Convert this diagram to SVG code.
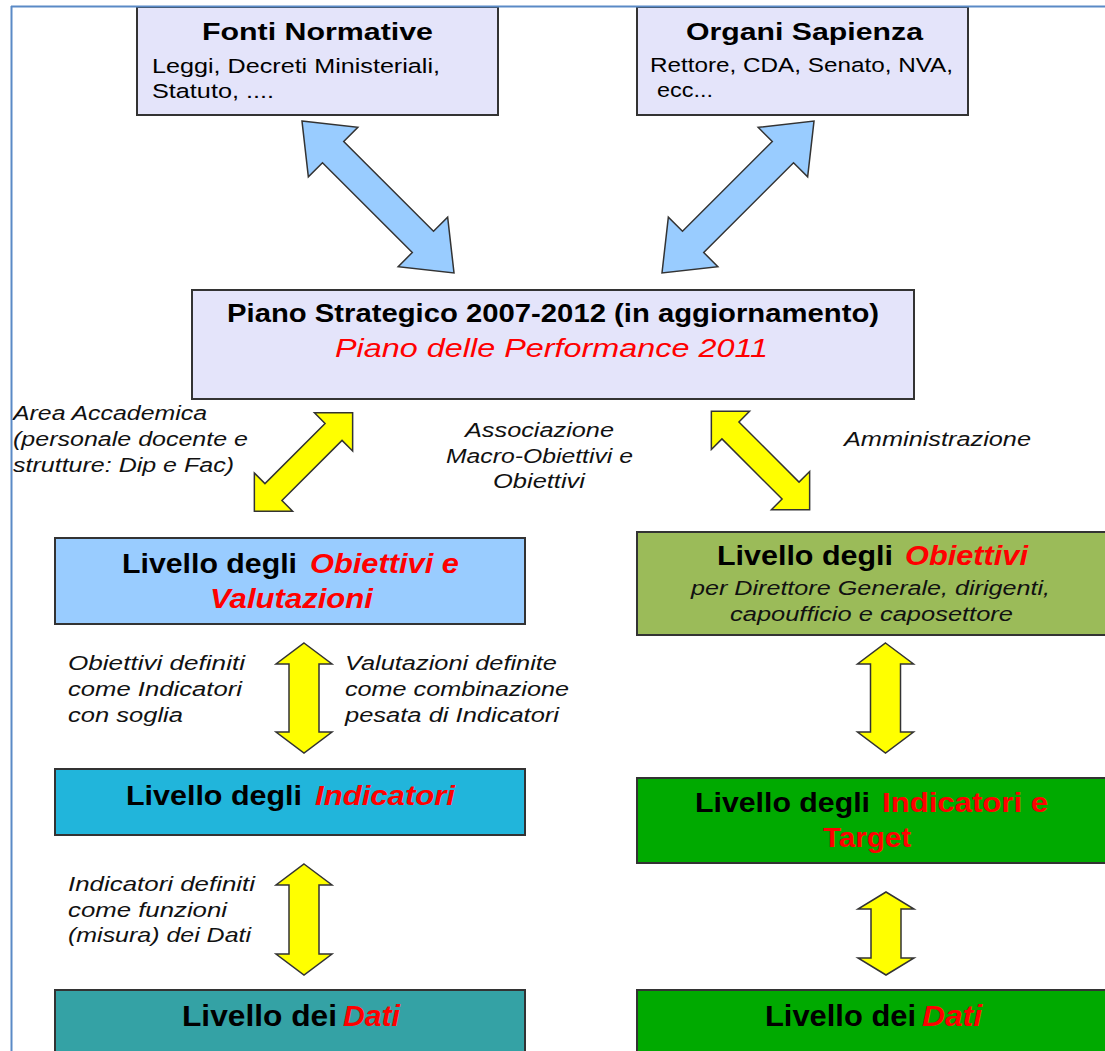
<svg xmlns="http://www.w3.org/2000/svg" width="1105" height="1051" viewBox="0 0 1105 1051">
<defs>
<style>
text{font-family:"Liberation Sans",Arial,sans-serif;fill:#000}
.box{stroke:#333;stroke-width:2}
.lav{fill:#e4e4fa}
.t21{font-size:24px;font-weight:bold}
.s19{font-size:20.5px}
.b23{font-size:25px;font-weight:bold}
.i23{font-size:25px;font-style:italic;fill:#f00}
.lab{font-size:19.5px;font-style:italic;fill:#111}
.h27{font-size:27px;font-weight:bold}
.r{fill:#f00}
.it{font-style:italic}
.blue{fill:#99ccff;stroke:#333;stroke-width:1.5;stroke-linejoin:miter}
.yel{fill:#ffff00;stroke:#333;stroke-width:1.5;stroke-linejoin:miter}
</style>
</defs>
<rect width="1105" height="1051" fill="#fff"/>

<g id="fonti">
<rect class="box lav" x="137" y="7" width="361" height="108"/>
<text class="t21" x="202" y="40" textLength="231" lengthAdjust="spacingAndGlyphs">Fonti Normative</text>
<text class="s19" x="152" y="73" textLength="288" lengthAdjust="spacingAndGlyphs">Leggi, Decreti Ministeriali,</text>
<text class="s19" x="152" y="98" textLength="122" lengthAdjust="spacingAndGlyphs">Statuto, ....</text>
</g>

<g id="organi">
<rect class="box lav" x="637" y="7" width="331" height="108"/>
<text class="t21" x="686" y="40" textLength="237" lengthAdjust="spacingAndGlyphs">Organi Sapienza</text>
<text class="s19" x="650" y="72" textLength="303" lengthAdjust="spacingAndGlyphs">Rettore, CDA, Senato, NVA,</text>
<text class="s19" x="657" y="97" textLength="56" lengthAdjust="spacingAndGlyphs">ecc...</text>
</g>

<g id="piano">
<rect class="box lav" x="192" y="290" width="722" height="109"/>
<text class="b23" x="227" y="322" textLength="652" lengthAdjust="spacingAndGlyphs">Piano Strategico 2007-2012 (in aggiornamento)</text>
<text class="i23" x="335" y="357" textLength="433" lengthAdjust="spacingAndGlyphs">Piano delle Performance 2011</text>
</g>

<g id="obiettivi-valutazioni">
<rect class="box" fill="#99ccff" x="55" y="538" width="470" height="86"/>
<text class="h27" x="122" y="573" textLength="175" lengthAdjust="spacingAndGlyphs">Livello degli</text>
<text class="h27 r it" x="310" y="573" textLength="149" lengthAdjust="spacingAndGlyphs">Obiettivi e</text>
<text class="h27 r it" x="210" y="608" textLength="163" lengthAdjust="spacingAndGlyphs">Valutazioni</text>
</g>

<g id="obiettivi-amm">
<rect class="box" fill="#9bbb59" x="637" y="532" width="480" height="103"/>
<text class="h27" x="717" y="565" textLength="176" lengthAdjust="spacingAndGlyphs">Livello degli</text>
<text class="h27 r it" x="905" y="565" textLength="123" lengthAdjust="spacingAndGlyphs">Obiettivi</text>
<text class="lab" x="691" y="595" textLength="359" lengthAdjust="spacingAndGlyphs" style="font-size:20.5px">per Direttore Generale, dirigenti,</text>
<text class="lab" x="730" y="621" textLength="283" lengthAdjust="spacingAndGlyphs" style="font-size:20.5px">capoufficio e caposettore</text>
</g>

<g id="indicatori">
<rect class="box" fill="#21b5db" x="55" y="769" width="470" height="66"/>
<text class="h27" x="126" y="805" textLength="176" lengthAdjust="spacingAndGlyphs">Livello degli</text>
<text class="h27 r it" x="315" y="805" textLength="140" lengthAdjust="spacingAndGlyphs">Indicatori</text>
</g>

<g id="indicatori-target">
<rect class="box" fill="#00aa00" x="637" y="778" width="480" height="85"/>
<text class="h27" x="695" y="812" textLength="175" lengthAdjust="spacingAndGlyphs">Livello degli</text>
<text class="h27 r" x="882" y="812" textLength="166" lengthAdjust="spacingAndGlyphs">Indicatori e</text>
<text class="h27 r" x="823" y="847" textLength="88" lengthAdjust="spacingAndGlyphs">Target</text>
</g>

<g id="dati-acc">
<rect class="box" fill="#34a2a5" x="55" y="990" width="470" height="70"/>
<text class="h27" x="182" y="1026" textLength="155" lengthAdjust="spacingAndGlyphs" style="font-size:29px">Livello dei</text>
<text class="h27 r it" x="343" y="1026" textLength="57" lengthAdjust="spacingAndGlyphs" style="font-size:29px">Dati</text>
</g>

<g id="dati-amm">
<rect class="box" fill="#00aa00" x="637" y="990" width="480" height="70"/>
<text class="h27" x="765" y="1026" textLength="151" lengthAdjust="spacingAndGlyphs" style="font-size:29px">Livello dei</text>
<text class="h27 r it" x="922" y="1026" textLength="60" lengthAdjust="spacingAndGlyphs" style="font-size:29px">Dati</text>
</g>

<g id="connectors">
<polygon class="blue" transform="translate(378 197) rotate(45)" points="-107.5,0 -63.5,-35 -63.5,-15 63.5,-15 63.5,-35 107.5,0 63.5,35 63.5,15 -63.5,15 -63.5,35"/>
<polygon class="blue" transform="translate(738 197) rotate(-45)" points="-107.5,0 -63.5,-35 -63.5,-15 63.5,-15 63.5,-35 107.5,0 63.5,35 63.5,15 -63.5,15 -63.5,35"/>
<polygon class="yel" transform="translate(303.5 462) rotate(-45)" points="-69.5,0 -42.5,-27 -42.5,-12 42.5,-12 42.5,-27 69.5,0 42.5,27 42.5,12 -42.5,12 -42.5,27"/>
<polygon class="yel" transform="translate(760.5 460.5) rotate(45)" points="-69.5,0 -42.5,-27 -42.5,-12 42.5,-12 42.5,-27 69.5,0 42.5,27 42.5,12 -42.5,12 -42.5,27"/>
<polygon class="yel" points="304,643 332,664 319,664 319,732 332,732 304,753 276,732 289,732 289,664 276,664"/>
<polygon class="yel" points="885.5,643 913.5,664 900.5,664 900.5,732 913.5,732 885.5,753 857.5,732 870.5,732 870.5,664 857.5,664"/>
<polygon class="yel" points="304,864 332,885 319,885 319,954 332,954 304,975 276,954 289,954 289,885 276,885"/>
<polygon class="yel" points="886,892 914,909 901,909 901,958 914,958 886,975 858,958 871,958 871,909 858,909"/>
<text class="lab" x="13" y="420" textLength="194" lengthAdjust="spacingAndGlyphs">Area Accademica</text>
<text class="lab" x="13" y="446" textLength="235" lengthAdjust="spacingAndGlyphs">(personale docente e</text>
<text class="lab" x="13" y="472" textLength="221" lengthAdjust="spacingAndGlyphs">strutture: Dip e Fac)</text>
<text class="lab" x="465" y="437" textLength="149" lengthAdjust="spacingAndGlyphs">Associazione</text>
<text class="lab" x="446" y="463" textLength="187" lengthAdjust="spacingAndGlyphs">Macro-Obiettivi e</text>
<text class="lab" x="493" y="488" textLength="92" lengthAdjust="spacingAndGlyphs">Obiettivi</text>
<text class="lab" x="844" y="446" textLength="187" lengthAdjust="spacingAndGlyphs">Amministrazione</text>
<text class="lab" x="68" y="670" textLength="177" lengthAdjust="spacingAndGlyphs">Obiettivi definiti</text>
<text class="lab" x="68" y="696" textLength="174" lengthAdjust="spacingAndGlyphs">come Indicatori</text>
<text class="lab" x="68" y="722" textLength="115" lengthAdjust="spacingAndGlyphs">con soglia</text>
<text class="lab" x="345" y="670" textLength="212" lengthAdjust="spacingAndGlyphs">Valutazioni definite</text>
<text class="lab" x="345" y="696" textLength="224" lengthAdjust="spacingAndGlyphs">come combinazione</text>
<text class="lab" x="345" y="722" textLength="214" lengthAdjust="spacingAndGlyphs">pesata di Indicatori</text>
<text class="lab" x="68" y="891" textLength="187" lengthAdjust="spacingAndGlyphs" style="font-size:21px">Indicatori definiti</text>
<text class="lab" x="68" y="917" textLength="159" lengthAdjust="spacingAndGlyphs" style="font-size:21px">come funzioni</text>
<text class="lab" x="68" y="942" textLength="183" lengthAdjust="spacingAndGlyphs" style="font-size:21px">(misura) dei Dati</text>
</g>

<g id="frame" fill="none" stroke="#5a8ac6" stroke-width="2">
<line x1="11" y1="6.5" x2="1105" y2="6.5"/>
<line x1="11.5" y1="6" x2="11.5" y2="1051"/>
</g>
</svg>
